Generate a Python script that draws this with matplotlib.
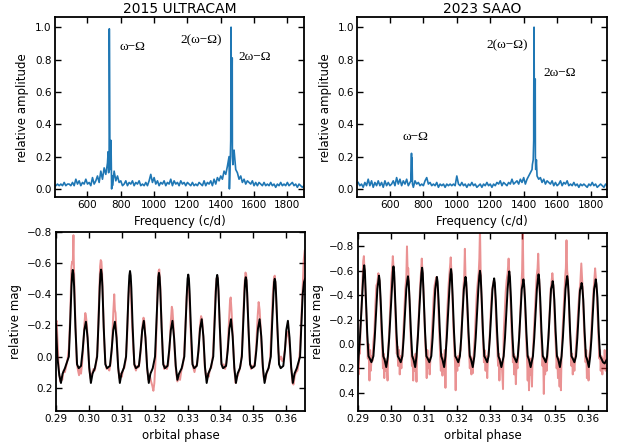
import matplotlib.pyplot as plt
import numpy as np

# ---------------- periodograms (relative amplitude vs frequency, c/d) ----------------
freq_grid = np.arange(410, 1901, 10)   # 10 c/d sampling of the noise floor

amp_ultracam = [
    0.02, 0.03, 0.02, 0.03, 0.02, 0.04, 0.02, 0.03, 0.03, 0.02,
    0.04, 0.02, 0.06, 0.03, 0.05, 0.02, 0.04, 0.03, 0.06, 0.03,
    0.04, 0.02, 0.07, 0.03, 0.05, 0.08, 0.04, 0.11, 0.06, 0.13,
    0.09, 0.16, 0.20, 0.12, 0.02, 0.11, 0.05, 0.08, 0.04, 0.05,
    0.02, 0.03, 0.05, 0.02, 0.04, 0.03, 0.05, 0.02, 0.04, 0.03,
    0.05, 0.02, 0.03, 0.02, 0.04, 0.02, 0.05, 0.09, 0.04, 0.07,
    0.03, 0.05, 0.02, 0.04, 0.03, 0.05, 0.02, 0.04, 0.03, 0.06,
    0.02, 0.05, 0.03, 0.04, 0.02, 0.05, 0.03, 0.04, 0.02, 0.04,
    0.03, 0.02, 0.04, 0.02, 0.03, 0.02, 0.04, 0.03, 0.02, 0.05,
    0.02, 0.04, 0.03, 0.05, 0.02, 0.06, 0.03, 0.07, 0.05, 0.08,
    0.06, 0.11, 0.09, 0.14, 0.20, 0.30, 0.20, 0.24, 0.12, 0.10,
    0.06, 0.08, 0.04, 0.06, 0.03, 0.05, 0.04, 0.03, 0.05, 0.02,
    0.04, 0.02, 0.04, 0.03, 0.02, 0.04, 0.02, 0.03, 0.02, 0.04,
    0.02, 0.03, 0.01, 0.03, 0.02, 0.04, 0.02, 0.03, 0.02, 0.04,
    0.02, 0.03, 0.04, 0.02, 0.03, 0.01, 0.03, 0.02, 0.01, 0.02,
]
peak_freq_ultracam = [724, 727, 731, 735, 741, 745, 748,
                      1448, 1452, 1456, 1462, 1465, 1469, 1473, 1477]
peak_amp_ultracam = [0.23, 0.10, 0.99, 0.15, 0.30, 0.00, 0.08,
                     0.19, 0.00, 0.12, 1.00, 0.30, 0.81, 0.15, 0.23]

amp_saao = [
    0.04, 0.02, 0.03, 0.01, 0.04, 0.02, 0.06, 0.02, 0.05, 0.01,
    0.04, 0.02, 0.05, 0.02, 0.04, 0.01, 0.05, 0.02, 0.04, 0.02,
    0.03, 0.05, 0.02, 0.07, 0.03, 0.06, 0.02, 0.05, 0.03, 0.06,
    0.02, 0.04, 0.05, 0.01, 0.05, 0.03, 0.04, 0.02, 0.03, 0.02,
    0.05, 0.07, 0.03, 0.04, 0.02, 0.03, 0.02, 0.04, 0.01, 0.03,
    0.02, 0.03, 0.01, 0.03, 0.02, 0.03, 0.02, 0.03, 0.02, 0.08,
    0.03, 0.02, 0.04, 0.02, 0.03, 0.01, 0.03, 0.02, 0.04, 0.02,
    0.03, 0.01, 0.02, 0.03, 0.01, 0.03, 0.02, 0.04, 0.02, 0.03,
    0.01, 0.03, 0.02, 0.04, 0.03, 0.05, 0.02, 0.04, 0.03, 0.02,
    0.04, 0.03, 0.06, 0.03, 0.04, 0.05, 0.03, 0.06, 0.04, 0.07,
    0.03, 0.06, 0.08, 0.10, 0.12, 0.30, 0.20, 0.08, 0.06, 0.07,
    0.04, 0.06, 0.03, 0.05, 0.04, 0.03, 0.05, 0.02, 0.04, 0.02,
    0.03, 0.05, 0.02, 0.04, 0.03, 0.05, 0.02, 0.03, 0.02, 0.04,
    0.02, 0.03, 0.01, 0.03, 0.02, 0.03, 0.02, 0.01, 0.03, 0.02,
    0.04, 0.02, 0.03, 0.01, 0.02, 0.03, 0.02, 0.01, 0.03, 0.02,
]
peak_freq_saao = [726, 729, 732, 735,
                  1452, 1457, 1460, 1462, 1464, 1467, 1469, 1472, 1476]
peak_amp_saao = [0.05, 0.22, 0.19, 0.03,
                 0.15, 0.18, 0.50, 1.00, 0.42, 0.30, 0.68, 0.12, 0.18]

# ---------------- light curves (orbital phase, relative mag) ----------------
uc_model = [
    (0.2900, -0.21), (0.2904, 0.00), (0.2910, 0.12), (0.2915, 0.17), (0.2920, 0.11),
    (0.2927, 0.075), (0.2939, 0.00), (0.2943, -0.21), (0.2947, -0.45), (0.2949, -0.53),
    (0.2951, -0.557), (0.2953, -0.53), (0.2955, -0.45), (0.2959, -0.19), (0.2964, 0.05),
    (0.2969, 0.075), (0.2976, 0.06), (0.2981, -0.04), (0.2986, -0.17), (0.2991, -0.224),
    (0.2996, -0.12), (0.3001, 0.07), (0.3006, 0.17), (0.3011, 0.11), (0.3018, 0.075),
    (0.3025, 0.00), (0.3029, -0.21), (0.3033, -0.45), (0.3035, -0.53), (0.3037, -0.559),
    (0.3039, -0.53), (0.3041, -0.45), (0.3045, -0.19), (0.3050, 0.05), (0.3055, 0.075),
    (0.3064, 0.06), (0.3069, -0.04), (0.3074, -0.17), (0.3079, -0.224), (0.3084, -0.12),
    (0.3089, 0.07), (0.3094, 0.17), (0.3099, 0.11), (0.3106, 0.075), (0.3113, 0.00),
    (0.3117, -0.21), (0.3121, -0.44), (0.3123, -0.52), (0.3125, -0.55), (0.3127, -0.52),
    (0.3129, -0.44), (0.3133, -0.19), (0.3138, 0.05), (0.3143, 0.075), (0.3152, 0.06),
    (0.3157, -0.04), (0.3162, -0.17), (0.3167, -0.23), (0.3172, -0.12), (0.3177, 0.07),
    (0.3182, 0.17), (0.3187, 0.11), (0.3194, 0.075), (0.3201, 0.00), (0.3205, -0.21),
    (0.3209, -0.43), (0.3211, -0.51), (0.3213, -0.538), (0.3215, -0.51), (0.3217, -0.43),
    (0.3221, -0.19), (0.3226, 0.05), (0.3231, 0.075), (0.3239, 0.06), (0.3244, -0.04),
    (0.3249, -0.17), (0.3254, -0.23), (0.3259, -0.12), (0.3264, 0.06), (0.3269, 0.15),
    (0.3274, 0.11), (0.3282, 0.075), (0.3290, 0.00), (0.3294, -0.21), (0.3298, -0.42),
    (0.3300, -0.50), (0.3302, -0.527), (0.3304, -0.50), (0.3306, -0.42), (0.3310, -0.19),
    (0.3315, 0.05), (0.3320, 0.075), (0.3328, 0.06), (0.3333, -0.04), (0.3338, -0.18),
    (0.3343, -0.24), (0.3348, -0.13), (0.3353, 0.07), (0.3358, 0.17), (0.3363, 0.11),
    (0.3370, 0.075), (0.3378, 0.00), (0.3382, -0.21), (0.3386, -0.42), (0.3388, -0.50),
    (0.3390, -0.525), (0.3392, -0.50), (0.3394, -0.42), (0.3398, -0.19), (0.3403, 0.05),
    (0.3408, 0.075), (0.3417, 0.06), (0.3422, -0.04), (0.3427, -0.18), (0.3432, -0.24),
    (0.3437, -0.13), (0.3442, 0.07), (0.3447, 0.17), (0.3452, 0.11), (0.3459, 0.075),
    (0.3465, 0.00), (0.3469, -0.21), (0.3473, -0.41), (0.3475, -0.49), (0.3477, -0.51),
    (0.3479, -0.49), (0.3481, -0.41), (0.3485, -0.19), (0.3490, 0.05), (0.3495, 0.075),
    (0.3504, 0.06), (0.3509, -0.04), (0.3514, -0.18), (0.3519, -0.24), (0.3524, -0.13),
    (0.3529, 0.07), (0.3534, 0.17), (0.3539, 0.11), (0.3546, 0.075), (0.3553, 0.00),
    (0.3557, -0.21), (0.3561, -0.40), (0.3563, -0.48), (0.3565, -0.50), (0.3567, -0.48),
    (0.3569, -0.40), (0.3573, -0.19), (0.3578, 0.05), (0.3583, 0.075), (0.3591, 0.06),
    (0.3596, -0.04), (0.3600, -0.17), (0.3605, -0.23), (0.3610, -0.12), (0.3615, 0.07),
    (0.3620, 0.17), (0.3625, 0.11), (0.3632, 0.075), (0.3642, 0.00), (0.3646, -0.21),
    (0.3650, -0.40), (0.3654, -0.48), (0.3657, -0.50),
]

uc_data = [
    (0.2900, -0.22), (0.2902, -0.23), (0.2905, -0.08), (0.2909, 0.10), (0.2913, 0.16),
    (0.2916, 0.13), (0.2919, 0.15), (0.2923, 0.09), (0.2927, 0.10), (0.2931, 0.06),
    (0.2935, 0.02), (0.2939, -0.05), (0.2943, -0.25), (0.2947, -0.58), (0.2949, -0.61),
    (0.2951, -0.60), (0.2953, -0.78), (0.2954, -0.62), (0.2956, -0.46), (0.2959, -0.21),
    (0.2963, 0.04), (0.2967, 0.09), (0.2970, 0.12), (0.2973, 0.08), (0.2976, 0.11),
    (0.2979, 0.05), (0.2982, -0.04), (0.2986, -0.20), (0.2989, -0.28), (0.2991, -0.26),
    (0.2994, -0.20), (0.2997, -0.08), (0.3001, 0.08), (0.3005, 0.14), (0.3008, 0.12),
    (0.3011, 0.10), (0.3014, 0.08), (0.3018, 0.09), (0.3022, 0.04), (0.3026, -0.04),
    (0.3030, -0.30), (0.3034, -0.58), (0.3036, -0.62), (0.3038, -0.61), (0.3040, -0.54),
    (0.3043, -0.33), (0.3046, -0.12), (0.3050, 0.04), (0.3054, 0.08), (0.3058, 0.07),
    (0.3062, 0.09), (0.3066, 0.04), (0.3070, -0.06), (0.3074, -0.28), (0.3077, -0.40),
    (0.3079, -0.30), (0.3081, -0.28), (0.3085, -0.10), (0.3089, 0.08), (0.3093, 0.14),
    (0.3096, 0.11), (0.3100, 0.13), (0.3104, 0.08), (0.3108, 0.07), (0.3112, 0.02),
    (0.3116, -0.12), (0.3120, -0.38), (0.3123, -0.46), (0.3125, -0.47), (0.3128, -0.40),
    (0.3131, -0.22), (0.3135, -0.05), (0.3139, 0.06), (0.3143, 0.09), (0.3147, 0.06),
    (0.3151, 0.07), (0.3155, 0.02), (0.3159, -0.08), (0.3163, -0.20), (0.3166, -0.25),
    (0.3169, -0.22), (0.3173, -0.08), (0.3177, 0.08), (0.3181, 0.15), (0.3185, 0.12),
    (0.3189, 0.16), (0.3193, 0.19), (0.3196, 0.22), (0.3199, 0.17), (0.3202, 0.05),
    (0.3206, -0.22), (0.3209, -0.45), (0.3212, -0.55), (0.3214, -0.56), (0.3217, -0.45),
    (0.3221, -0.20), (0.3225, 0.02), (0.3229, 0.08), (0.3233, 0.06), (0.3237, 0.08),
    (0.3241, 0.05), (0.3245, -0.05), (0.3249, -0.22), (0.3252, -0.32), (0.3254, -0.30),
    (0.3257, -0.20), (0.3261, -0.02), (0.3265, 0.10), (0.3269, 0.16), (0.3273, 0.13),
    (0.3277, 0.15), (0.3281, 0.09), (0.3285, 0.06), (0.3289, 0.00), (0.3293, -0.18),
    (0.3297, -0.38), (0.3300, -0.45), (0.3302, -0.46), (0.3305, -0.40), (0.3309, -0.18),
    (0.3313, 0.02), (0.3317, 0.07), (0.3321, 0.10), (0.3325, 0.06), (0.3329, 0.05),
    (0.3333, -0.03), (0.3337, -0.18), (0.3341, -0.26), (0.3344, -0.24), (0.3348, -0.12),
    (0.3352, 0.06), (0.3356, 0.13), (0.3360, 0.11), (0.3364, 0.13), (0.3368, 0.08),
    (0.3372, 0.07), (0.3377, -0.01), (0.3381, -0.20), (0.3385, -0.42), (0.3388, -0.50),
    (0.3391, -0.51), (0.3394, -0.42), (0.3398, -0.18), (0.3402, 0.03), (0.3406, 0.07),
    (0.3410, 0.05), (0.3414, 0.08), (0.3418, 0.04), (0.3422, -0.06), (0.3426, -0.24),
    (0.3429, -0.36), (0.3431, -0.38), (0.3434, -0.28), (0.3438, -0.10), (0.3442, 0.08),
    (0.3446, 0.17), (0.3449, 0.14), (0.3453, 0.12), (0.3457, 0.09), (0.3461, 0.06),
    (0.3465, -0.02), (0.3469, -0.24), (0.3473, -0.46), (0.3476, -0.54), (0.3478, -0.53),
    (0.3481, -0.42), (0.3485, -0.18), (0.3489, 0.03), (0.3493, 0.08), (0.3497, 0.06),
    (0.3501, 0.07), (0.3505, 0.03), (0.3509, -0.08), (0.3513, -0.26), (0.3516, -0.35),
    (0.3519, -0.30), (0.3523, -0.15), (0.3527, 0.03), (0.3531, 0.13), (0.3535, 0.16),
    (0.3539, 0.12), (0.3543, 0.09), (0.3547, 0.07), (0.3551, 0.01), (0.3555, -0.18),
    (0.3559, -0.40), (0.3563, -0.51), (0.3565, -0.52), (0.3568, -0.44), (0.3572, -0.22),
    (0.3576, -0.03), (0.3580, 0.02), (0.3584, 0.00), (0.3588, 0.03), (0.3592, 0.01),
    (0.3596, -0.05), (0.3600, -0.12), (0.3604, -0.16), (0.3607, -0.14), (0.3611, -0.05),
    (0.3615, 0.08), (0.3619, 0.17), (0.3622, 0.18), (0.3626, 0.12), (0.3630, 0.10),
    (0.3634, 0.09), (0.3638, 0.04), (0.3642, -0.05), (0.3646, -0.25), (0.3650, -0.45),
    (0.3653, -0.62), (0.3656, -0.68),
]

sa_model = [
    (0.2900, 0.19), (0.2902, 0.10), (0.2906, -0.05), (0.2910, -0.25), (0.2914, -0.45),
    (0.2917, -0.60), (0.2919, -0.645), (0.2921, -0.60), (0.2924, -0.38), (0.2928, -0.10),
    (0.2932, 0.10), (0.2936, 0.12), (0.2941, 0.15), (0.2947, 0.10), (0.2951, -0.05),
    (0.2955, -0.25), (0.2959, -0.45), (0.2962, -0.52), (0.2964, -0.56), (0.2966, -0.52),
    (0.2969, -0.36), (0.2973, -0.10), (0.2977, 0.10), (0.2981, 0.13), (0.2986, 0.19),
    (0.2991, 0.10), (0.2995, -0.05), (0.2999, -0.25), (0.3003, -0.45), (0.3006, -0.59),
    (0.3008, -0.636), (0.3010, -0.59), (0.3013, -0.38), (0.3017, -0.10), (0.3021, 0.10),
    (0.3025, 0.12), (0.3030, 0.15), (0.3035, 0.10), (0.3039, -0.05), (0.3043, -0.25),
    (0.3047, -0.45), (0.3050, -0.52), (0.3052, -0.555), (0.3054, -0.51), (0.3057, -0.36),
    (0.3061, -0.10), (0.3065, 0.10), (0.3069, 0.13), (0.3074, 0.19), (0.3078, 0.10),
    (0.3082, -0.05), (0.3086, -0.25), (0.3090, -0.45), (0.3093, -0.58), (0.3095, -0.625),
    (0.3097, -0.58), (0.3100, -0.38), (0.3104, -0.10), (0.3108, 0.10), (0.3112, 0.12),
    (0.3117, 0.15), (0.3123, 0.10), (0.3127, -0.05), (0.3131, -0.25), (0.3135, -0.45),
    (0.3138, -0.51), (0.3140, -0.55), (0.3142, -0.51), (0.3145, -0.36), (0.3149, -0.10),
    (0.3153, 0.10), (0.3157, 0.13), (0.3162, 0.19), (0.3166, 0.10), (0.3170, -0.05),
    (0.3174, -0.25), (0.3178, -0.45), (0.3181, -0.57), (0.3183, -0.614), (0.3185, -0.57),
    (0.3188, -0.38), (0.3192, -0.10), (0.3196, 0.10), (0.3200, 0.12), (0.3205, 0.15),
    (0.3210, 0.10), (0.3214, -0.05), (0.3218, -0.25), (0.3222, -0.45), (0.3225, -0.51),
    (0.3227, -0.55), (0.3229, -0.51), (0.3232, -0.36), (0.3236, -0.10), (0.3240, 0.10),
    (0.3244, 0.13), (0.3249, 0.19), (0.3254, 0.10), (0.3258, -0.05), (0.3262, -0.25),
    (0.3266, -0.45), (0.3269, -0.56), (0.3271, -0.60), (0.3273, -0.56), (0.3276, -0.38),
    (0.3280, -0.10), (0.3284, 0.10), (0.3288, 0.12), (0.3293, 0.15), (0.3297, 0.10),
    (0.3301, -0.05), (0.3305, -0.25), (0.3309, -0.45), (0.3312, -0.50), (0.3314, -0.538),
    (0.3316, -0.50), (0.3319, -0.36), (0.3323, -0.10), (0.3327, 0.10), (0.3331, 0.13),
    (0.3336, 0.19), (0.3343, 0.10), (0.3347, -0.05), (0.3351, -0.25), (0.3355, -0.45),
    (0.3358, -0.55), (0.3360, -0.595), (0.3362, -0.55), (0.3365, -0.38), (0.3369, -0.10),
    (0.3373, 0.10), (0.3377, 0.12), (0.3382, 0.15), (0.3386, 0.10), (0.3390, -0.05),
    (0.3394, -0.25), (0.3398, -0.45), (0.3401, -0.49), (0.3403, -0.53), (0.3405, -0.49),
    (0.3408, -0.36), (0.3412, -0.10), (0.3416, 0.10), (0.3420, 0.13), (0.3425, 0.19),
    (0.3432, 0.10), (0.3436, -0.05), (0.3440, -0.25), (0.3444, -0.45), (0.3447, -0.53),
    (0.3449, -0.571), (0.3451, -0.53), (0.3454, -0.38), (0.3458, -0.10), (0.3462, 0.10),
    (0.3466, 0.12), (0.3471, 0.15), (0.3475, 0.10), (0.3479, -0.05), (0.3483, -0.25),
    (0.3487, -0.45), (0.3490, -0.48), (0.3492, -0.515), (0.3494, -0.48), (0.3497, -0.36),
    (0.3501, -0.10), (0.3505, 0.10), (0.3509, 0.13), (0.3514, 0.19), (0.3519, 0.10),
    (0.3523, -0.05), (0.3527, -0.25), (0.3531, -0.45), (0.3534, -0.52), (0.3536, -0.557),
    (0.3538, -0.52), (0.3541, -0.38), (0.3545, -0.10), (0.3549, 0.10), (0.3553, 0.12),
    (0.3558, 0.15), (0.3563, 0.10), (0.3567, -0.05), (0.3571, -0.25), (0.3575, -0.44),
    (0.3578, -0.47), (0.3580, -0.50), (0.3582, -0.47), (0.3585, -0.36), (0.3589, -0.10),
    (0.3593, 0.10), (0.3597, 0.13), (0.3602, 0.19), (0.3606, 0.10), (0.3610, -0.05),
    (0.3614, -0.25), (0.3618, -0.45), (0.3621, -0.49), (0.3623, -0.53), (0.3625, -0.49),
    (0.3628, -0.38), (0.3632, -0.10), (0.3636, 0.10), (0.3640, 0.12), (0.3645, 0.15),
    (0.3650, 0.16), (0.3656, 0.13),
]

sa_data = [
    (0.2900, 0.34), (0.2901, 0.05), (0.2902, 0.25), (0.2904, 0.02), (0.2906, 0.08),
    (0.2908, -0.15), (0.2911, -0.30), (0.2914, -0.52), (0.2916, -0.68), (0.2918, -0.72),
    (0.2920, -0.60), (0.2922, -0.50), (0.2925, -0.28), (0.2928, -0.05), (0.2930, 0.12),
    (0.2932, 0.00), (0.2935, 0.30), (0.2937, 0.05), (0.2939, 0.22), (0.2942, 0.10),
    (0.2944, 0.14), (0.2947, -0.02), (0.2950, -0.10), (0.2953, -0.32), (0.2956, -0.48),
    (0.2959, -0.50), (0.2962, -0.58), (0.2964, -0.55), (0.2966, -0.50), (0.2969, -0.30),
    (0.2971, -0.12), (0.2974, 0.05), (0.2976, 0.20), (0.2978, 0.08), (0.2980, 0.28),
    (0.2982, 0.12), (0.2985, 0.22), (0.2987, 0.15), (0.2990, 0.30), (0.2992, 0.05),
    (0.2995, -0.10), (0.2998, -0.30), (0.3001, -0.50), (0.3004, -0.62), (0.3006, -0.72),
    (0.3008, -0.64), (0.3010, -0.55), (0.3013, -0.32), (0.3016, -0.05), (0.3018, 0.08),
    (0.3020, 0.02), (0.3022, 0.18), (0.3025, 0.05), (0.3027, 0.25), (0.3029, 0.10),
    (0.3032, 0.20), (0.3035, 0.08), (0.3038, -0.10), (0.3041, -0.28), (0.3044, -0.45),
    (0.3047, -0.55), (0.3049, -0.80), (0.3051, -0.60), (0.3053, -0.62), (0.3056, -0.40),
    (0.3059, -0.15), (0.3062, 0.05), (0.3064, 0.18), (0.3066, 0.10), (0.3068, 0.30),
    (0.3070, 0.12), (0.3072, 0.22), (0.3075, 0.08), (0.3078, 0.31), (0.3080, 0.02),
    (0.3083, -0.12), (0.3086, -0.30), (0.3089, -0.48), (0.3092, -0.60), (0.3094, -0.70),
    (0.3096, -0.60), (0.3099, -0.45), (0.3102, -0.22), (0.3105, 0.02), (0.3107, 0.10),
    (0.3109, 0.28), (0.3111, 0.05), (0.3113, 0.20), (0.3116, 0.12), (0.3118, 0.25),
    (0.3121, 0.08), (0.3124, -0.05), (0.3127, -0.20), (0.3130, -0.38), (0.3133, -0.48),
    (0.3136, -0.52), (0.3139, -0.55), (0.3141, -0.50), (0.3144, -0.32), (0.3147, -0.10),
    (0.3150, 0.10), (0.3152, 0.22), (0.3154, 0.08), (0.3157, 0.26), (0.3159, 0.12),
    (0.3161, 0.22), (0.3164, 0.05), (0.3166, 0.36), (0.3168, 0.02), (0.3170, -0.18),
    (0.3173, -0.35), (0.3176, -0.50), (0.3179, -0.60), (0.3182, -0.71), (0.3184, -0.60),
    (0.3187, -0.40), (0.3190, -0.15), (0.3193, 0.05), (0.3195, 0.15), (0.3197, 0.38),
    (0.3199, 0.12), (0.3202, 0.22), (0.3204, 0.10), (0.3207, 0.18), (0.3209, 0.08),
    (0.3212, 0.05), (0.3215, -0.12), (0.3218, -0.30), (0.3221, -0.48), (0.3223, -0.55),
    (0.3225, -0.78), (0.3227, -0.55), (0.3229, -0.50), (0.3232, -0.32), (0.3235, -0.10),
    (0.3238, 0.08), (0.3240, 0.20), (0.3242, 0.10), (0.3245, 0.25), (0.3247, 0.12),
    (0.3249, 0.24), (0.3252, 0.08), (0.3255, -0.05), (0.3258, -0.22), (0.3261, -0.40),
    (0.3264, -0.50), (0.3267, -0.58), (0.3269, -0.70), (0.3271, -0.95), (0.3273, -0.60),
    (0.3275, -0.42), (0.3278, -0.18), (0.3281, 0.02), (0.3283, 0.15), (0.3285, 0.05),
    (0.3288, 0.22), (0.3290, 0.10), (0.3293, 0.28), (0.3295, 0.12), (0.3298, 0.05),
    (0.3301, -0.10), (0.3304, -0.28), (0.3307, -0.42), (0.3310, -0.48), (0.3313, -0.52),
    (0.3315, -0.50), (0.3318, -0.35), (0.3321, -0.12), (0.3324, 0.05), (0.3326, 0.18),
    (0.3328, 0.08), (0.3330, 0.30), (0.3332, 0.12), (0.3334, 0.20), (0.3337, 0.15),
    (0.3341, 0.37), (0.3343, -0.08), (0.3346, -0.25), (0.3349, -0.42), (0.3352, -0.52),
    (0.3355, -0.58), (0.3358, -0.70), (0.3360, -0.58), (0.3363, -0.42), (0.3366, -0.18),
    (0.3369, 0.02), (0.3371, 0.15), (0.3373, 0.08), (0.3375, 0.25), (0.3377, 0.10),
    (0.3380, 0.33), (0.3382, 0.15), (0.3385, 0.20), (0.3388, 0.05), (0.3391, -0.10),
    (0.3394, -0.28), (0.3397, -0.45), (0.3399, -0.60), (0.3401, -0.95), (0.3403, -0.55),
    (0.3406, -0.45), (0.3409, -0.22), (0.3412, 0.00), (0.3414, 0.12), (0.3416, 0.30),
    (0.3418, 0.10), (0.3420, 0.38), (0.3422, 0.15), (0.3424, 0.25), (0.3426, 0.12),
    (0.3429, 0.35), (0.3431, 0.10), (0.3434, -0.05), (0.3437, -0.22), (0.3440, -0.40),
    (0.3443, -0.55), (0.3446, -0.62), (0.3448, -0.74), (0.3450, -0.58), (0.3453, -0.40),
    (0.3456, -0.15), (0.3459, 0.05), (0.3461, 0.18), (0.3463, 0.10), (0.3465, 0.41),
    (0.3467, 0.12), (0.3469, 0.25), (0.3471, 0.15), (0.3474, 0.22), (0.3477, 0.05),
    (0.3480, -0.10), (0.3483, -0.28), (0.3486, -0.45), (0.3489, -0.52), (0.3491, -0.58),
    (0.3493, -0.52), (0.3496, -0.38), (0.3499, -0.12), (0.3502, 0.05), (0.3504, 0.20),
    (0.3506, 0.10), (0.3508, 0.28), (0.3510, 0.12), (0.3513, 0.35), (0.3515, 0.15),
    (0.3517, 0.38), (0.3519, 0.10), (0.3521, -0.05), (0.3524, -0.22), (0.3527, -0.40),
    (0.3530, -0.55), (0.3532, -0.62), (0.3534, -0.85), (0.3536, -0.60), (0.3538, -0.55),
    (0.3541, -0.36), (0.3544, -0.12), (0.3547, 0.05), (0.3549, 0.18), (0.3551, 0.08),
    (0.3553, 0.25), (0.3555, 0.12), (0.3558, 0.22), (0.3561, 0.10), (0.3564, -0.02),
    (0.3567, -0.15), (0.3570, -0.30), (0.3573, -0.42), (0.3576, -0.50), (0.3579, -0.66),
    (0.3581, -0.55), (0.3584, -0.40), (0.3587, -0.15), (0.3590, 0.02), (0.3592, 0.15),
    (0.3594, 0.05), (0.3596, 0.28), (0.3598, 0.12), (0.3601, 0.30), (0.3603, 0.10),
    (0.3606, 0.05), (0.3609, -0.08), (0.3612, -0.25), (0.3615, -0.40), (0.3618, -0.50),
    (0.3621, -0.62), (0.3623, -0.55), (0.3626, -0.42), (0.3629, -0.20), (0.3632, 0.00),
    (0.3634, 0.12), (0.3636, 0.05), (0.3638, 0.22), (0.3640, 0.10), (0.3643, 0.25),
    (0.3645, 0.12), (0.3648, 0.20), (0.3650, 0.05), (0.3653, 0.22), (0.3656, 0.15),
]

freq_ticks = [600, 800, 1000, 1200, 1400, 1600, 1800]
amp_ticks = [0.0, 0.2, 0.4, 0.6, 0.8, 1.0]
phase_ticks = [0.29, 0.30, 0.31, 0.32, 0.33, 0.34, 0.35, 0.36]
mag_ticks_uc = [-0.8, -0.6, -0.4, -0.2, 0.0, 0.2]
mag_ticks_sa = [-0.8, -0.6, -0.4, -0.2, 0.0, 0.2, 0.4]

serif = ['Liberation Serif', 'DejaVu Serif']


def style(ax):
    ax.tick_params(direction='in', top=True, right=True, length=4, width=1,
                   labelsize=7.5, pad=2.5)
    for s in ax.spines.values():
        s.set_linewidth(1.3)


def spectrum(ax, amps, pf, pa, title):
    f = np.concatenate([freq_grid, pf])
    a = np.concatenate([amps, pa])
    order = np.argsort(f, kind='stable')
    ax.plot(f[order], a[order], color='tab:blue', lw=1.2)
    ax.set_xlim(405, 1900)
    ax.set_ylim(-0.05, 1.06)
    ax.set_xticks(freq_ticks)
    ax.set_yticks(amp_ticks)
    ax.set_xlabel('Frequency (c/d)', fontsize=8.5, labelpad=3)
    ax.set_ylabel('relative amplitude', fontsize=8.5)
    ax.set_title(title, fontsize=10, pad=3)
    style(ax)


def lightcurve(ax, data, model, ylim, yticks):
    d = np.array(data)
    m = np.array(model)
    ax.plot(d[:, 0], d[:, 1], color='tab:red', alpha=0.5, lw=1.4)
    ax.plot(m[:, 0], m[:, 1], color='black', lw=1.4)
    ax.set_xlim(0.29, 0.3657)
    ax.set_ylim(*ylim)
    ax.set_xticks(phase_ticks)
    ax.set_xticklabels([f'{t:.2f}' for t in phase_ticks])
    ax.set_yticks(yticks)
    ax.set_xlabel('orbital phase', fontsize=8.5, labelpad=3)
    ax.set_ylabel('relative mag', fontsize=8.5)
    style(ax)


fig = plt.figure(figsize=(6.28, 4.44), dpi=100)
ax1 = fig.add_axes([0.0876, 0.5563, 0.3965, 0.4043])
ax2 = fig.add_axes([0.569, 0.5563, 0.398, 0.4043])
ax3 = fig.add_axes([0.0892, 0.0743, 0.3965, 0.403])
ax4 = fig.add_axes([0.570, 0.0743, 0.3965, 0.401])

spectrum(ax1, amp_ultracam, peak_freq_ultracam, peak_amp_ultracam, '2015 ULTRACAM')
ax1.text(790, 0.878, 'ω−Ω', family=serif, fontsize=9.5, va='center')
ax1.text(1282, 0.92, '2(ω−Ω)', family=serif, fontsize=9.5, va='center', ha='center')
ax1.text(1504, 0.816, '2ω−Ω', family=serif, fontsize=9.5, va='center')

spectrum(ax2, amp_saao, peak_freq_saao, peak_amp_saao, '2023 SAAO')
ax2.text(754, 0.322, 'ω−Ω', family=serif, fontsize=9.5, va='center', ha='center')
ax2.text(1300, 0.888, '2(ω−Ω)', family=serif, fontsize=9.5, va='center', ha='center')
ax2.text(1516, 0.718, '2ω−Ω', family=serif, fontsize=9.5, va='center')

lightcurve(ax3, uc_data, uc_model, (0.35, -0.8), mag_ticks_uc)
lightcurve(ax4, sa_data, sa_model, (0.55, -0.91), mag_ticks_sa)

fig.savefig('out.png', dpi=100)
